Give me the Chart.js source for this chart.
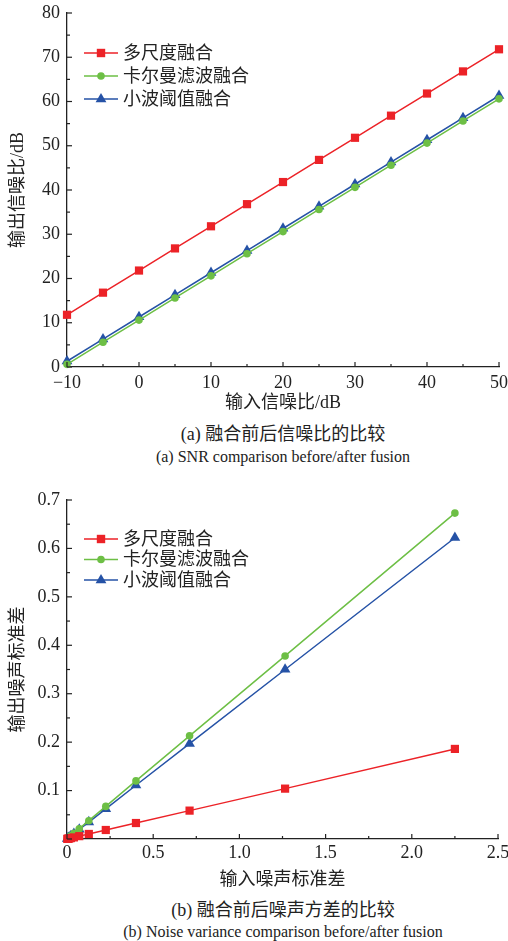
<!DOCTYPE html>
<html>
<head>
<meta charset="utf-8">
<script src="https://cdn.jsdelivr.net/npm/chart.js@4/dist/chart.umd.min.js"></script>
<style>
    body { margin: 0; background: #fff; width: 508px; height: 941px; position: relative; overflow: hidden; }
    .box { position: absolute; left: 0; width: 508px; }
    .cap { position: absolute; left: 83px; width: 400px; text-align: center; color: #222; white-space: nowrap;
           font-family: "Liberation Serif", "Times New Roman", Times, "Noto Sans CJK SC", serif; }
    .cn { font-size: 18px; line-height: 22px; }
    .en { font-size: 16px; line-height: 20px; }
</style>
</head>
<body>
<div class="box" style="top:0;height:415px"><canvas id="snrChart"></canvas></div>
<div class="cap cn" style="top:423px">(a) 融合前后信噪比的比较</div>
<div class="cap en" style="top:447px">(a) SNR comparison before/after fusion</div>

<div class="box" style="top:485px;height:410px"><canvas id="noiseChart"></canvas></div>
<div class="cap cn" style="top:899px">(b) 融合前后噪声方差的比较</div>
<div class="cap en" style="top:922px">(b) Noise variance comparison before/after fusion</div>

<script>
// Series names
const seriesNames = ['多尺度融合', '卡尔曼滤波融合', '小波阈值融合'];

// (a) input SNR (dB) and output SNR (dB)
const snrIn = [-10, -5, 0, 5, 10, 15, 20, 25, 30, 35, 40, 45, 50];
const snrMulti = [11.8, 16.8, 21.8, 26.8, 31.8, 36.8, 41.8, 46.8, 51.8, 56.8, 61.8, 66.8, 71.8];
const snrKalman = [0.6, 5.6, 10.6, 15.6, 20.6, 25.6, 30.6, 35.6, 40.6, 45.6, 50.6, 55.6, 60.6];
const snrWavelet = [1.3, 6.3, 11.3, 16.3, 21.3, 26.3, 31.3, 36.3, 41.3, 46.3, 51.3, 56.3, 61.3];

// (b) input noise std and output noise std
const stdIn = [2.25, 1.265, 0.711, 0.40, 0.225, 0.1265, 0.0711, 0.040, 0.0225, 0.0127, 0.0071, 0.0040, 0.0023];
const stdMulti = [0.186, 0.104, 0.0586, 0.033, 0.0186, 0.0104, 0.0059, 0.0033, 0.0019, 0.0010, 0.0006, 0.0003, 0.0002];
const stdKalman = [0.673, 0.378, 0.213, 0.120, 0.0673, 0.0378, 0.0213, 0.0120, 0.0067, 0.0038, 0.0021, 0.0012, 0.0007];
const stdWavelet = [0.622, 0.350, 0.197, 0.111, 0.0622, 0.0350, 0.0197, 0.0111, 0.0062, 0.0035, 0.0020, 0.0011, 0.0006];

const colors = ['#ec2227', '#6dbf45', '#2552a6'];
const shapes = ['rect', 'circle', 'triangle'];
const radii = [5.8, 3.8, 6.2];

const serif = '"Liberation Serif", "Times New Roman", Times, "Noto Sans CJK SC", serif';
const ink = '#222';

function toPoints(xs, ys) {
    return xs.map((x, i) => ({ x: x, y: ys[i] }));
}

function makeDatasets(xs, seriesList) {
    return seriesList.map((ys, i) => ({
        label: seriesNames[i],
        data: toPoints(xs, ys),
        borderColor: colors[i],
        backgroundColor: colors[i],
        borderWidth: 1.5,
        pointStyle: shapes[i],
        pointRadius: radii[i],
        pointBorderWidth: 0,
        tension: 0,
        clip: false
    }));
}

// Inward major/minor tick marks
const innerTicks = {
    id: 'innerTicks',
    afterDraw(chart) {
        const { ctx, chartArea, scales } = chart;
        ctx.save();
        ctx.strokeStyle = ink;
        ctx.lineWidth = 1.2;
        const mark = (scale, v, len) => {
            const p = scale.getPixelForValue(v);
            ctx.beginPath();
            if (scale.isHorizontal()) {
                ctx.moveTo(p, chartArea.bottom);
                ctx.lineTo(p, chartArea.bottom - len);
            } else {
                ctx.moveTo(chartArea.left, p);
                ctx.lineTo(chartArea.left + len, p);
            }
            ctx.stroke();
        };
        [scales.x, scales.y].forEach(scale => {
            const t = scale.ticks;
            t.forEach((tk, i) => {
                mark(scale, tk.value, 5);
                if (i < t.length - 1) mark(scale, (tk.value + t[i + 1].value) / 2, 3);
            });
        });
        ctx.restore();
    }
};

// Legend drawn inside the plot: line with marker in the middle
const lineLegend = {
    id: 'lineLegend',
    afterDraw(chart, args, opts) {
        const { ctx } = chart;
        ctx.save();
        chart.data.datasets.forEach((ds, i) => {
            const y = opts.y0 + i * opts.dy;
            const x0 = opts.x, x1 = opts.x + 34, xm = (x0 + x1) / 2;
            ctx.strokeStyle = ds.borderColor;
            ctx.lineWidth = 1.5;
            ctx.beginPath();
            ctx.moveTo(x0, y);
            ctx.lineTo(x1, y);
            ctx.stroke();
            ctx.fillStyle = ds.backgroundColor;
            ctx.beginPath();
            if (ds.pointStyle === 'rect') {
                ctx.rect(xm - 4.2, y - 4.2, 8.4, 8.4);
            } else if (ds.pointStyle === 'circle') {
                ctx.arc(xm, y, 3.8, 0, Math.PI * 2);
            } else {
                ctx.moveTo(xm, y - 6);
                ctx.lineTo(xm + 5.4, y + 3.2);
                ctx.lineTo(xm - 5.4, y + 3.2);
                ctx.closePath();
            }
            ctx.fill();
            ctx.fillStyle = ink;
            ctx.font = '18px ' + serif;
            ctx.textBaseline = 'middle';
            ctx.textAlign = 'left';
            ctx.fillText(ds.label, x1 + 5, y + 1);
        });
        ctx.restore();
    }
};

function buildOptions(cfg) {
    return {
        responsive: true,
        maintainAspectRatio: false,
        animation: false,
        events: [],
        layout: { autoPadding: false, padding: { left: 0, right: cfg.padRight, top: cfg.padTop, bottom: 0 } },
        plugins: {
            legend: { display: false },
            tooltip: { enabled: false },
            lineLegend: cfg.legend
        },
        scales: {
            x: {
                type: 'linear',
                min: cfg.xMin,
                max: cfg.xMax,
                border: { display: true, color: ink, width: 1.3 },
                grid: { display: false, drawTicks: false },
                afterFit: s => {
                    s.height = cfg.xHeight;
                    s.paddingLeft = 0;
                    s.paddingRight = 0;
                },
                ticks: {
                    stepSize: cfg.xStep,
                    color: ink,
                    padding: cfg.xPad,
                    maxRotation: 0,
                    font: { family: serif, size: 18 },
                    callback: cfg.xFmt
                },
                title: {
                    display: true,
                    text: cfg.xTitle,
                    color: ink,
                    padding: { top: 0, bottom: cfg.xTitlePad },
                    font: { family: serif, size: 18 }
                }
            },
            y: {
                type: 'linear',
                min: cfg.yMin,
                max: cfg.yMax,
                border: { display: true, color: ink, width: 1.3 },
                grid: { display: false, drawTicks: false },
                afterFit: s => {
                    s.width = 67;
                    s.paddingTop = 0;
                    s.paddingBottom = 0;
                },
                ticks: {
                    stepSize: cfg.yStep,
                    color: ink,
                    padding: 7,
                    font: { family: serif, size: 18 },
                    callback: cfg.yFmt
                },
                title: {
                    display: true,
                    text: cfg.yTitle,
                    color: ink,
                    padding: { top: 7, bottom: 0 },
                    font: { family: serif, size: 18 }
                }
            }
        }
    };
}

new Chart(document.getElementById('snrChart'), {
    type: 'line',
    data: { datasets: makeDatasets(snrIn, [snrMulti, snrKalman, snrWavelet]) },
    options: buildOptions({
        padRight: 9, padTop: 13,
        xMin: -10, xMax: 50, xStep: 10, xHeight: 48, xPad: 5, xTitlePad: 1,
        xFmt: v => (v < 0 ? '\u2212' + Math.abs(v) : String(v)),
        xTitle: '输入信噪比/dB',
        yMin: 0, yMax: 80, yStep: 10,
        yFmt: v => String(v),
        yTitle: '输出信噪比/dB',
        legend: { x: 84, y0: 53, dy: 23 }
    }),
    plugins: [innerTicks, lineLegend]
});

new Chart(document.getElementById('noiseChart'), {
    type: 'line',
    data: { datasets: makeDatasets(stdIn, [stdMulti, stdKalman, stdWavelet]) },
    options: buildOptions({
        padRight: 10, padTop: 15,
        xMin: 0, xMax: 2.5, xStep: 0.5, xHeight: 56, xPad: 3, xTitlePad: 4,
        xFmt: v => (Math.abs(v) < 1e-9 ? '0' : v.toFixed(1)),
        xTitle: '输入噪声标准差',
        yMin: 0, yMax: 0.7, yStep: 0.1,
        yFmt: v => (Math.abs(v) < 1e-9 ? '' : v.toFixed(1)),
        yTitle: '输出噪声标准差',
        legend: { x: 84, y0: 54, dy: 20.5 }
    }),
    plugins: [innerTicks, lineLegend]
});
</script>
</body>
</html>
